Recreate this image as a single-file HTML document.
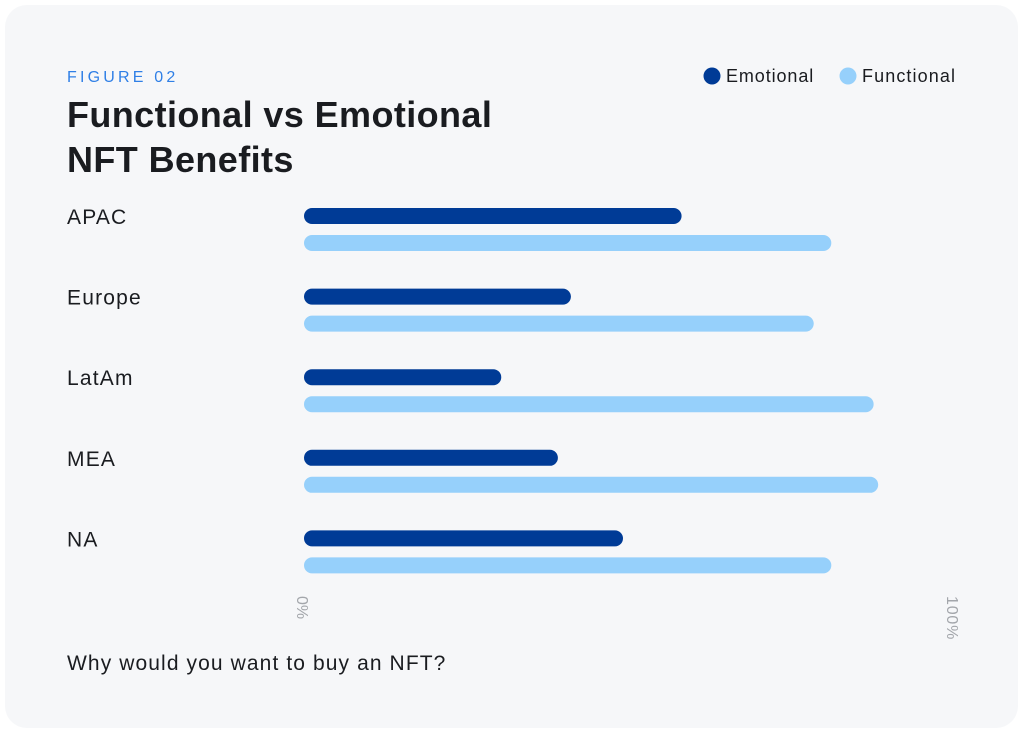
<!DOCTYPE html>
<html><head><meta charset="utf-8"><style>
body{margin:0;background:#fff;width:1024px;height:729px;overflow:hidden;font-family:"Liberation Sans",sans-serif}
#card{position:absolute;left:5px;top:5px;width:1013px;height:723px;background:#f6f7f9;border-radius:22px}
</style></head><body>
<div id="card"></div>
<svg id="chart" width="1024" height="729" style="position:absolute;left:0;top:0">
<text x="67" y="82" font-size="16" fill="#2f7fe6" letter-spacing="3.2">FIGURE 02</text>
<text x="67" y="127" font-size="36" font-weight="bold" fill="#1a1c20" letter-spacing="0.4">Functional vs Emotional</text>
<text x="67" y="172" font-size="36" font-weight="bold" fill="#1a1c20" letter-spacing="0.4">NFT Benefits</text>
<g>
<circle cx="712" cy="76" r="8.5" fill="#003b96"/>
<text x="726" y="82" font-size="18" fill="#1a1c20" letter-spacing="0.9">Emotional</text>
<circle cx="848" cy="76" r="8.5" fill="#96d0fb"/>
<text x="862" y="82" font-size="18" fill="#1a1c20" letter-spacing="1.1">Functional</text>
</g>
<g id="bars"></g>
<text transform="translate(297,596) rotate(90)" font-size="16" fill="#a3a6ab">0%</text>
<text transform="translate(947,596) rotate(90)" font-size="16" fill="#a3a6ab" letter-spacing="0.8">100%</text>
<text x="67" y="670" font-size="21" fill="#1a1c20" letter-spacing="1.1">Why would you want to buy an NFT?</text>
</svg>
<script>
const categories=["APAC","Europe","LatAm","MEA","NA"];
const emotional=[58,41,30.3,39,49];
const functional=[81,78.3,87.5,88.2,81];
const x0=304,x1=955;
const xs=v=>x0+(x1-x0)*v/100;
const rowY=i=>216+80.6*i;
const g=document.getElementById('bars');
const NS="http://www.w3.org/2000/svg";
categories.forEach((c,i)=>{
  const t=document.createElementNS(NS,'text');
  t.setAttribute('x',67);t.setAttribute('y',rowY(i)+8);t.setAttribute('font-size',21);t.setAttribute('fill','#1a1c20');t.setAttribute('letter-spacing',1.2);
  t.textContent=c;
  
  
  g.appendChild(t);
  [[emotional[i],'#003b96',0],[functional[i],'#96d0fb',27]].forEach(([v,col,dy])=>{
    const l=document.createElementNS(NS,'line');
    l.setAttribute('x1',x0+8);l.setAttribute('x2',xs(v)-8);
    l.setAttribute('y1',rowY(i)+dy);l.setAttribute('y2',rowY(i)+dy);
    l.setAttribute('stroke',col);l.setAttribute('stroke-width',16);l.setAttribute('stroke-linecap','round');
    
    
    g.appendChild(l);
  });
});
</script>
</body></html>
